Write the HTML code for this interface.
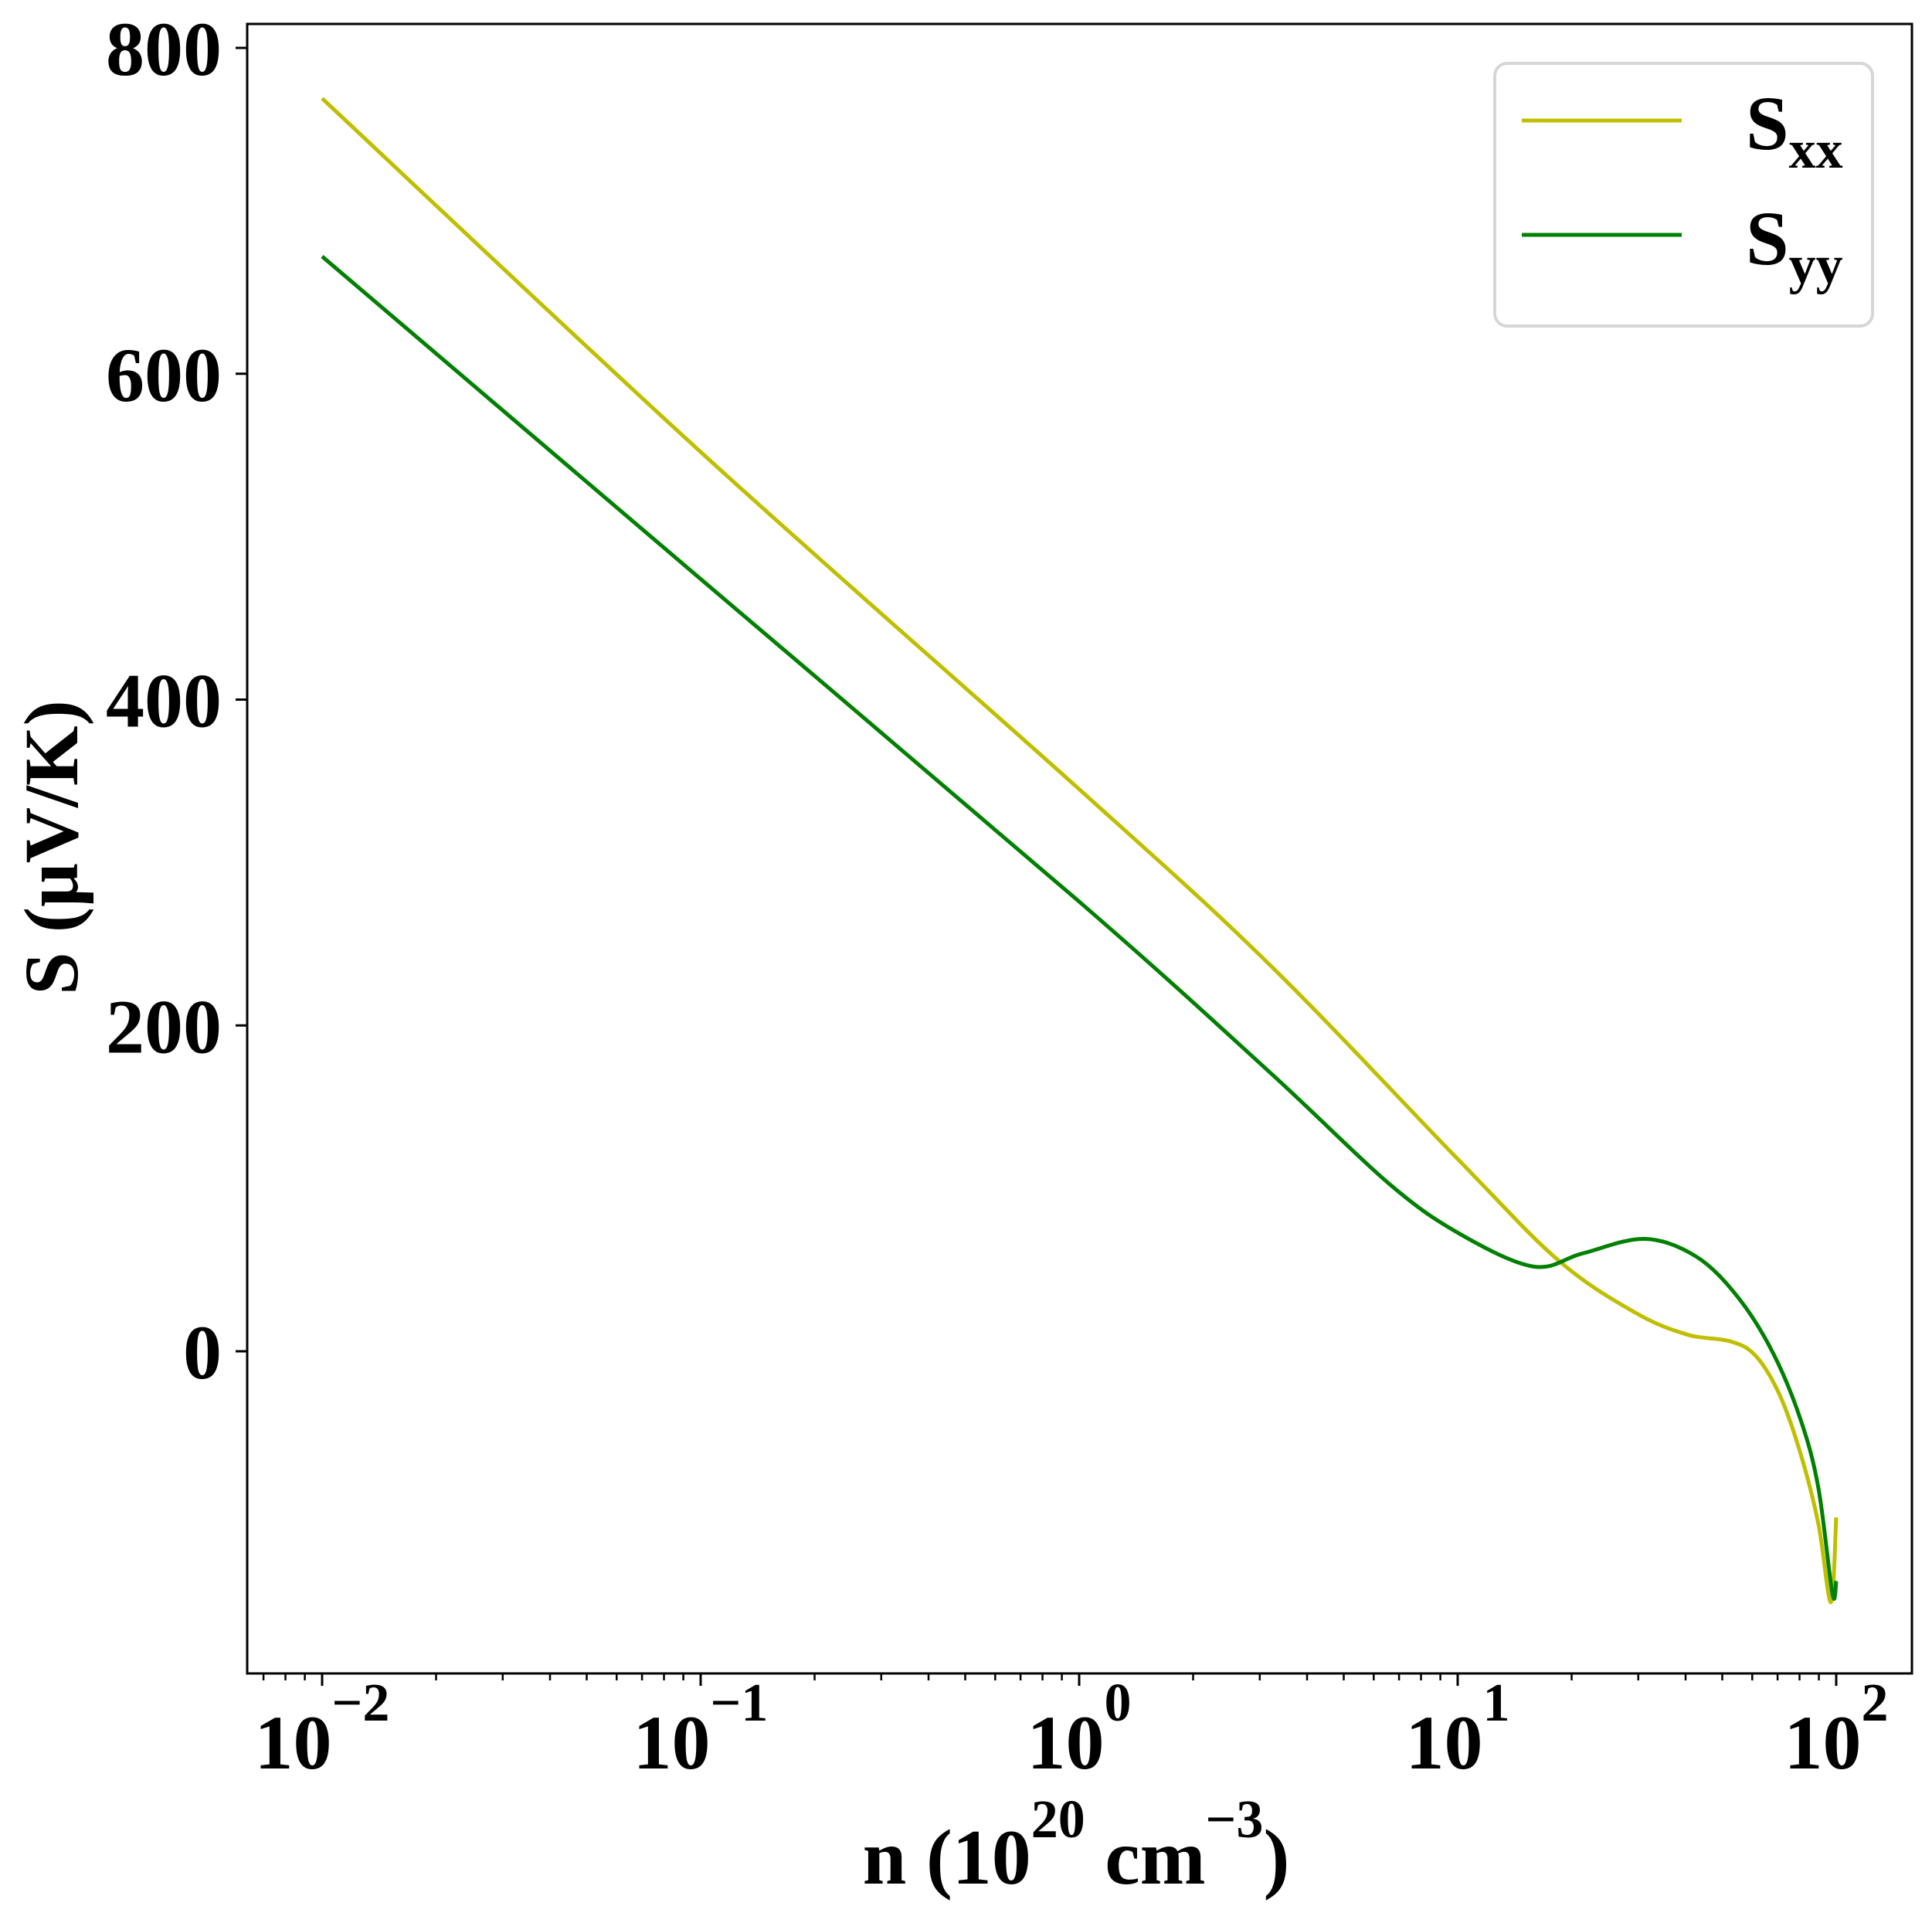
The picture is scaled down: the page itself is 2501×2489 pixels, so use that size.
<!DOCTYPE html>
<html><head><meta charset="utf-8"><style>
html,body{margin:0;padding:0;background:#fff;}
svg{display:block;font-family:"Liberation Serif","DejaVu Serif",serif;font-weight:bold;}
</style></head><body>
<svg id="chart" width="2501" height="2489" viewBox="0 0 2501 2489" xmlns="http://www.w3.org/2000/svg">
<rect x="0" y="0" width="2501" height="2489" fill="#fff"/>
<g id="ticks"></g>
<g id="series"></g>
<rect x="320" y="31" width="2155" height="2135" fill="none" stroke="#000" stroke-width="3"/>
<text transform="translate(100,1097) rotate(-90)" text-anchor="middle" font-size="100">S (μV/K)</text>
<text x="1393" y="2438" text-anchor="middle" font-size="102">n (10<tspan dy="-60" font-size="70">20</tspan><tspan dy="60"> cm</tspan><tspan dy="-60" font-size="70">−3</tspan><tspan dy="60">)</tspan></text>
<g>
<rect x="1935" y="82" width="489" height="340" rx="16" fill="#fff" fill-opacity="0.8" stroke="#d6d6d6" stroke-width="4"/>
<line x1="1970" y1="156" x2="2177" y2="156" stroke="#bfbf00" stroke-width="5"/>
<text x="2260" y="193" font-size="100">S<tspan dy="24" font-size="70">xx</tspan></text>
<line x1="1970" y1="304" x2="2177" y2="304" stroke="#008000" stroke-width="5"/>
<text x="2260" y="342" font-size="100">S<tspan dy="24" font-size="70">yy</tspan></text>
</g>
</svg>
<script>
const xLogN = [-2, -1, 0, 0.5, 1.0, 1.265, 1.467, 1.604, 1.722, 1.788, 1.851, 1.906, 1.953, 1.986, 2.0];
const sxxValues = [769, 552, 345, 238, 118, 56, 24, 10.4, 6, -3, -27, -63, -106, -154, -102];
const xLogNyy = [-2, -1, 0, 0.5, 0.818, 1.006, 1.2, 1.329, 1.494, 1.631, 1.741, 1.833, 1.906, 1.953, 1.99, 2.0];
const syyValues = [672, 474, 276, 172, 103, 72, 52, 60, 69, 58, 33, -1, -42, -84, -149, -141];
const yTickValues = [0, 200, 400, 600, 800];
const yTickLabels = ["0", "200", "400", "600", "800"];
const xTickExps = [-2, -1, 0, 1, 2];
const xTickExpLabels = ["−2", "−1", "0", "1", "2"];

const NS = "http://www.w3.org/2000/svg";
const X0 = 417, DEC = 490, Y0 = 1749, YS = 421.75 / 200;
const LEFT = 320, RIGHT = 2475, BOTTOM = 2166;
function sx(lg){ return X0 + (lg + 2) * DEC; }
function sy(v){ return Y0 - v * YS; }
function mk(tag, attrs, parent){
  const e = document.createElementNS(NS, tag);
  for (const k in attrs) e.setAttribute(k, attrs[k]);
  parent.appendChild(e);
  return e;
}
const ticks = document.getElementById('ticks');
yTickValues.forEach((v, i) => {
  const y = sy(v);
  const t = mk('line', {x1: LEFT - 15, y1: y, x2: LEFT, y2: y, stroke: '#000', 'stroke-width': 3}, ticks);
  
  
  const l = mk('text', {x: 287, y: y + 35, 'text-anchor': 'end', 'font-size': 100}, ticks);
  l.textContent = yTickLabels[i];
  
  
});
for (let d = -3; d <= 2; d++) {
  for (let m = 2; m <= 9; m++) {
    const x = sx(d + Math.log10(m));
    if (x <= LEFT || x >= RIGHT) continue;
    const t = mk('line', {x1: x, y1: BOTTOM, x2: x, y2: BOTTOM + 9, stroke: '#000', 'stroke-width': 2.5}, ticks);
    
    
  }
}
xTickExps.forEach((e, i) => {
  const x = sx(e);
  const t = mk('line', {x1: x, y1: BOTTOM, x2: x, y2: BOTTOM + 16, stroke: '#000', 'stroke-width': 3}, ticks);
  
  
  const l = mk('text', {x: x, y: 2289, 'text-anchor': 'middle', 'font-size': 100}, ticks);
  
  
  const a = document.createElementNS(NS, 'tspan'); a.textContent = '10'; l.appendChild(a);
  const b = document.createElementNS(NS, 'tspan');
  b.setAttribute('dy', '-62'); b.setAttribute('font-size', '70'); b.textContent = xTickExpLabels[i];
  l.appendChild(b);
});
function smoothPath(xs, ys){
  const p = xs.map((x, i) => [sx(x), sy(ys[i])]);
  let d = 'M' + p[0][0] + ',' + p[0][1];
  for (let i = 0; i < p.length - 1; i++) {
    const p0 = p[i - 1] || p[i], p1 = p[i], p2 = p[i + 1], p3 = p[i + 2] || p2;
    const c1 = [p1[0] + (p2[0] - p0[0]) / 6, p1[1] + (p2[1] - p0[1]) / 6];
    const c2 = [p2[0] - (p3[0] - p1[0]) / 6, p2[1] - (p3[1] - p1[1]) / 6];
    d += ' C' + c1.join(',') + ' ' + c2.join(',') + ' ' + p2.join(',');
  }
  return d;
}
const series = document.getElementById('series');
const lx = mk('path', {d: smoothPath(xLogN, sxxValues), fill: 'none', stroke: '#bfbf00', 'stroke-width': 5, 'stroke-linejoin': 'round'}, series);


const ly = mk('path', {d: smoothPath(xLogNyy, syyValues), fill: 'none', stroke: '#008000', 'stroke-width': 5, 'stroke-linejoin': 'round'}, series);


</script>
</body></html>
